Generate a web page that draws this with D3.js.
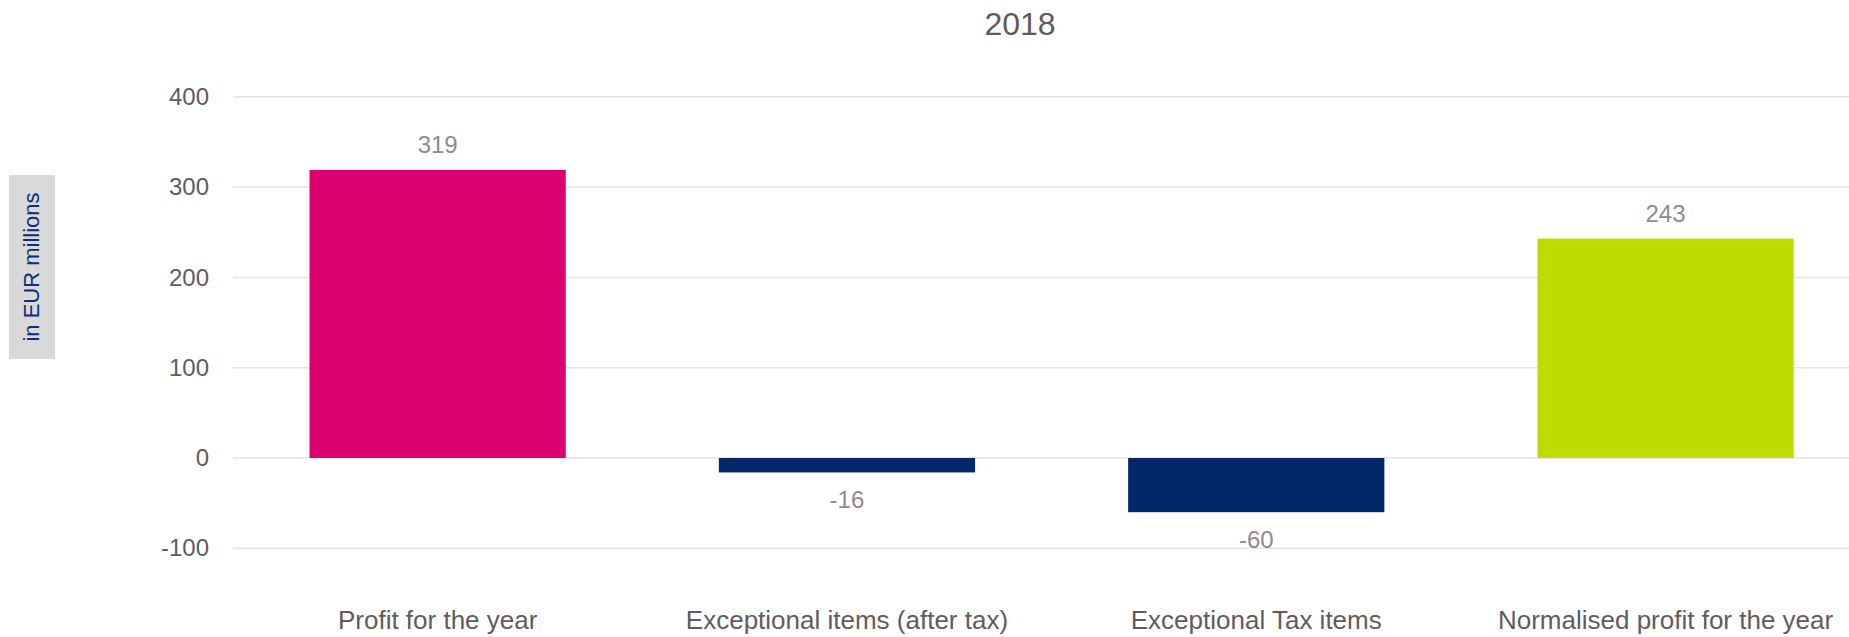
<!DOCTYPE html>
<html>
<head>
<meta charset="utf-8">
<script src="https://cdn.jsdelivr.net/npm/d3@7"></script>
<style>
  html, body { margin: 0; padding: 0; background: #fff; }
  svg { display: block; font-family: "Liberation Sans", Arial, sans-serif; }
</style>
</head>
<body>
<div id="chart"></div>
<script>
(function(){
    "use strict";

    var categories = ["Profit for the year", "Exceptional items (after tax)", "Exceptional Tax items", "Normalised profit for the year"];
    var values = [319, -16, -60, 243];
    var barColors = ["#dc006e", "#02286a", "#02286a", "#bedc00"];
    var yTicks = [-100, 0, 100, 200, 300, 400];
    var title = "2018";
    var yLabel = "in EUR millions";

    var width = 1849, height = 637;
    var left = 233, step = 409.3;

    var svg = d3.select("#chart")
        .append("svg")
        .attr("width", width)
        .attr("height", height);

    var x = d3.scaleBand()
        .domain(categories)
        .range([left, left + step * categories.length])
        .paddingInner(0.374)
        .paddingOuter(0.187);

    var y = d3.scaleLinear()
        .domain([-100, 400])
        .range([548.3, 96.8]);

    // gridlines
    svg.append("g")
        .selectAll("line")
        .data(yTicks)
        .enter()
        .append("line")
        .attr("x1", left)
        .attr("x2", width)
        .attr("y1", function(d) { return y(d); })
        .attr("y2", function(d) { return y(d); })
        .attr("stroke", "#e4e4e4")
        .attr("stroke-width", 1.5);

    // y axis tick labels (plain hyphen for negatives)
    var yAxis = d3.axisLeft(y)
        .tickValues(yTicks)
        .tickFormat(function(d) { return String(d); })
        .tickSize(0)
        .tickPadding(0);
    var gy = svg.append("g")
        .attr("transform", "translate(209,0)")
        .call(yAxis);
    gy.select(".domain").remove();
    gy.selectAll("text")
        .attr("font-size", 24)
        .attr("font-family", "Liberation Sans, Arial, sans-serif")
        .attr("fill", "#5f5b5f");

    // bars
    svg.selectAll("rect.bar")
        .data(values)
        .enter()
        .append("rect")
        .attr("class", "bar")
        .attr("x", function(d, i) { return x(categories[i]); })
        .attr("width", x.bandwidth())
        .attr("y", function(d) { return y(Math.max(0, d)); })
        .attr("height", function(d) { return Math.abs(y(d) - y(0)); })
        .attr("fill", function(d, i) { return barColors[i]; });

    // value labels
    svg.selectAll("text.val")
        .data(values)
        .enter()
        .append("text")
        .attr("class", "val")
        .attr("x", function(d, i) { return x(categories[i]) + x.bandwidth() / 2; })
        .attr("y", function(d) { return d >= 0 ? y(d) - 17 : y(d) + 36; })
        .attr("text-anchor", "middle")
        .attr("font-size", 24)
        .attr("fill", "#8f8b8f")
        .text(function(d) { return d; });

    // x axis labels
    var xAxis = d3.axisBottom(x).tickSize(0).tickPadding(0);
    var gx = svg.append("g")
        .attr("transform", "translate(0,611)")
        .call(xAxis);
    gx.select(".domain").remove();
    gx.selectAll("text")
        .attr("font-size", 26)
        .attr("font-family", "Liberation Sans, Arial, sans-serif")
        .attr("fill", "#5f5b5f");

    // title
    svg.append("text")
        .attr("x", 1020)
        .attr("y", 35)
        .attr("text-anchor", "middle")
        .attr("font-size", 32)
        .attr("fill", "#5f5b5f")
        .text(title);

    // y label box
    svg.append("rect")
        .attr("x", 9)
        .attr("y", 175)
        .attr("width", 46)
        .attr("height", 184)
        .attr("fill", "#d9d9d9");

    svg.append("text")
        .attr("transform", "translate(39,267) rotate(-90)")
        .attr("text-anchor", "middle")
        .attr("font-size", 22)
        .attr("fill", "#0c2c80")
        .text(yLabel);
})();
</script>
</body>
</html>
